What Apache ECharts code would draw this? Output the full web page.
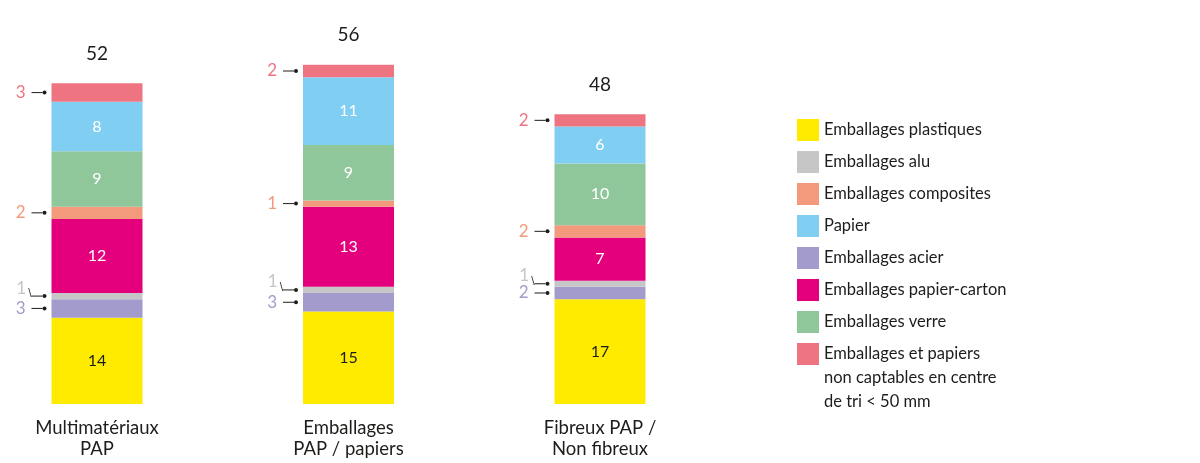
<!DOCTYPE html>
<html>
<head>
<meta charset="utf-8">
<script src="https://cdn.jsdelivr.net/npm/echarts@6/dist/echarts.min.js"></script>
<style>
  html, body { margin: 0; padding: 0; background: #fff; }
  #chart { width: 1200px; height: 463px; }
</style>
</head>
<body>
<div id="chart"></div>
<script>
// categories
const categories = ['Multimatériaux\nPAP', 'Emballages\nPAP / papiers', 'Fibreux PAP /\nNon fibreux']
// totals shown above the bars
const totals = [52, 56, 48]

// series values, bottom to top
const plastiques = [14, 15, 17]
const acier = [3, 3, 2]
const alu = [1, 1, 1]
const papierCarton = [12, 13, 7]
const composites = [2, 1, 2]
const verre = [9, 9, 10]
const papier = [8, 11, 6]
const nonCaptables = [3, 2, 2]

const NAME_LAST = 'Emballages et papiers\nnon captables en centre\nde tri < 50 mm'
const legendOrder = [
  'Emballages plastiques', 'Emballages alu', 'Emballages composites', 'Papier',
  'Emballages acier', 'Emballages papier-carton', 'Emballages verre'
]

const FONT = 'Lato'
const INK = '#1d1d1b'

function insideLabel(color) {
  return {
    show: true,
    position: 'inside',
    color: color,
    fontFamily: FONT,
    fontSize: 16
  }
}

// small values: number on the left with a short leader ending in a dot
function sideLabel(color, bent) {
  return {
    show: true,
    position: 'left',
    distance: 5,
    formatter: p => bent
      ? '{n|' + p.value + '}{s|\\}{l| }{d| }'
      : '{n|' + p.value + '}{g| }{l| }{d| }',
    rich: {
      n: { color: color, fontFamily: FONT, fontSize: 17, padding: bent ? [0, 0, 16, 0] : 0 },
      g: { width: 6 },
      s: { color: INK, fontFamily: 'DejaVu Sans', fontSize: 10, padding: [0, 0, 5, 2] },
      l: { width: 11, height: 1, backgroundColor: INK },
      d: { width: 4, height: 4, borderRadius: 2, backgroundColor: INK }
    }
  }
}

function bar(name, data, color, label) {
  return {
    name: name,
    type: 'bar',
    stack: 'total',
    barWidth: 91,
    clip: false,
    data: data,
    itemStyle: { color: color },
    label: label
  }
}

const chart = echarts.init(document.getElementById('chart'))

chart.setOption({
  animation: false,
  textStyle: { fontFamily: FONT },
  grid: { left: 97, right: 600, top: 34, bottom: 59 },
  xAxis: {
    type: 'category',
    boundaryGap: false,
    data: categories,
    axisLine: { show: false },
    axisTick: { show: false },
    axisLabel: {
      interval: 0,
      margin: 14,
      color: INK,
      fontFamily: FONT,
      fontSize: 18.5,
      lineHeight: 21
    }
  },
  yAxis: { type: 'value', min: 0, max: 60, show: false },
  legend: [
    {
      orient: 'vertical',
      left: 797,
      top: 119,
      padding: 0,
      itemWidth: 22,
      itemHeight: 22,
      itemGap: 10,
      icon: 'rect',
      data: legendOrder,
      textStyle: { color: INK, fontFamily: FONT, fontSize: 16.5 }
    },
    {
      // two empty lines on top keep the first text line level with the swatch
      orient: 'vertical',
      left: 797,
      top: 294,
      padding: 0,
      itemWidth: 22,
      itemHeight: 22,
      icon: 'rect',
      data: [NAME_LAST],
      formatter: name => '\n\n' + name,
      textStyle: { color: INK, fontFamily: FONT, fontSize: 16.5, lineHeight: 24 }
    }
  ],
  series: [
    bar('Emballages plastiques', plastiques, '#ffeb00', insideLabel(INK)),
    bar('Emballages acier', acier, '#a29bcb', sideLabel('#a29bcb')),
    bar('Emballages alu', alu, '#c6c6c6', sideLabel('#c6c6c6', true)),
    bar('Emballages papier-carton', papierCarton, '#e4007c', insideLabel('#fff')),
    bar('Emballages composites', composites, '#f29a7b', sideLabel('#f29a7b')),
    bar('Emballages verre', verre, '#8fc79a', insideLabel('#fff')),
    bar('Papier', papier, '#80cff3', insideLabel('#fff')),
    bar(NAME_LAST, nonCaptables, '#ee7482', sideLabel('#ee7482')),
    {
      name: 'total',
      type: 'bar',
      stack: 'total',
      barWidth: 91,
      clip: false,
      data: [0, 0, 0],
      itemStyle: { color: 'transparent' },
      label: {
        show: true,
        position: 'top',
        distance: 20,
        color: INK,
        fontFamily: FONT,
        fontSize: 19,
        formatter: p => totals[p.dataIndex]
      }
    }
  ]
})
</script>
</body>
</html>
